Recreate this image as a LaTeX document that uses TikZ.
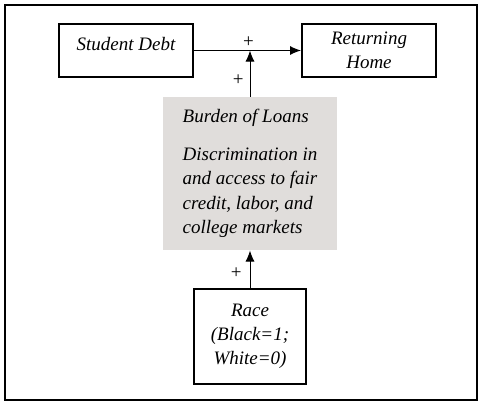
\documentclass[tikz,border=0pt]{standalone}
\usepackage{fontspec}
\setmainfont{Liberation Serif}
\usetikzlibrary{positioning, calc, arrows.meta}
\definecolor{loangray}{HTML}{E0DDDB}

\begin{document}
\begin{tikzpicture}[x=1pt, y=-1pt,
    box/.style={draw, line width=2pt, minimum width=134pt, minimum height=53pt,
      align=center, font=\fontsize{19}{24}\selectfont\itshape},
    shaded/.style={fill=loangray, minimum width=174pt, minimum height=153pt,
      align=left, inner sep=0pt, font=\fontsize{19}{24.5}\selectfont\itshape},
    plus/.style={font=\fontsize{19}{19}\selectfont, inner sep=1pt},
    >={Latex[length=11pt,width=9pt]}, line width=1pt]

  \useasboundingbox (0,0) rectangle (483,405);
  \draw[line width=2pt] (5,5) rectangle (477,400);

  \node[box, text depth=14pt] (debt) at (126,50.5) {Student Debt};
  \node[box] (home) at (369,50.5) {Returning\\Home};
  \node[shaded] (loans) at (250,173.5) {Burden of Loans\\[13pt]
    Discrimination in\\and access to fair\\credit, labor, and\\college markets};
  \node[box, minimum width=112pt, minimum height=95pt] (race) at (250,336.5)
    {Race\\(Black=1;\\White=0)};

  \coordinate (meet) at (debt.east -| loans.north);

  \draw[->] (debt) -- node[plus, pos=0.51, above=2pt] {+} (home);
  \draw[->] (loans.north) -- node[plus, pos=0.35, left=5pt] {+} (meet);
  \draw[->] (race.north) -- node[plus, pos=0.4, left=7pt] {+} (loans.south);
\end{tikzpicture}
\end{document}
